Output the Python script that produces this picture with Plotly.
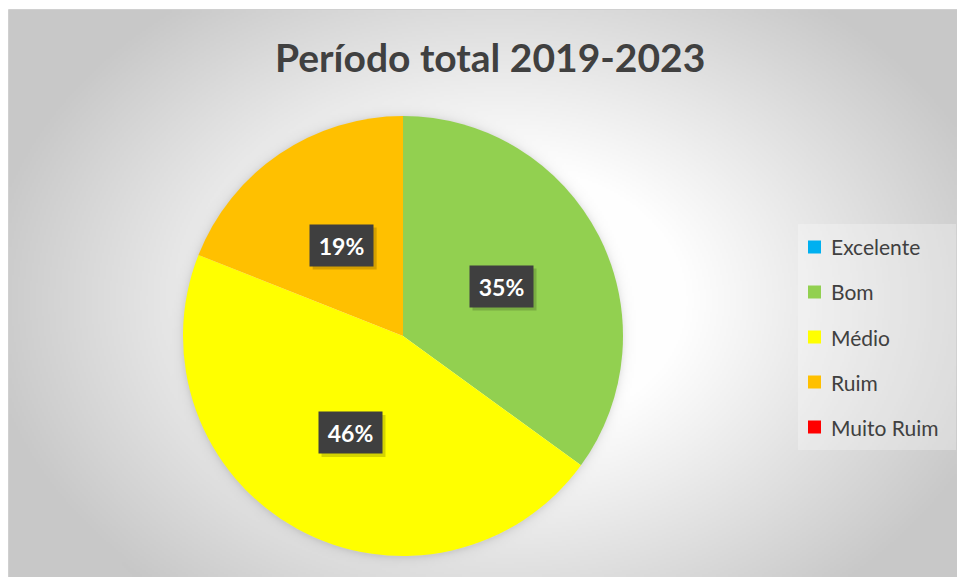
import base64
import math
import struct
import zlib

import numpy as np
import plotly.graph_objects as go

# ---------------- data ----------------
categories = ["Excelente", "Bom", "Médio", "Ruim", "Muito Ruim"]
values = [0, 35, 46, 19, 0]
colors = ["#00B0F0", "#92D050", "#FFFF00", "#FFC000", "#FF0000"]
title_text = "Período total 2019-2023"

# ---------------- geometry (pixels of the target picture) ----------------
W, H = 957, 577
OFF = 0                             # body margin removed via post_script
FW, FH = W - OFF, H - OFF
CX, CY, R = 403, 336, 220           # pie centre / radius
FRAME_X, FRAME_Y = 9, 10            # chart frame top-left


def px(x):
    return (x - OFF) / FW


def py(y):
    return 1 - (y - OFF) / FH


# ---------------- background gradient image ----------------
def make_png(gray):
    h, w = gray.shape
    raw = b"".join(b"\x00" + gray[i].tobytes() for i in range(h))

    def chunk(tag, data):
        c = struct.pack(">I", len(data)) + tag + data
        return c + struct.pack(">I", zlib.crc32(tag + data) & 0xFFFFFFFF)

    png = b"\x89PNG\r\n\x1a\n"
    png += chunk(b"IHDR", struct.pack(">IIBBBBB", w, h, 8, 0, 0, 0, 0))
    png += chunk(b"IDAT", zlib.compress(raw, 9))
    png += chunk(b"IEND", b"")
    return "data:image/png;base64," + base64.b64encode(png).decode()


scale = 2
gw, gh = (W - FRAME_X) // scale, (H - FRAME_Y) // scale
xs = FRAME_X + (np.arange(gw) + 0.5) * scale
ys = FRAME_Y + (np.arange(gh) + 0.5) * scale
XX, YY = np.meshgrid(xs, ys)
d = np.sqrt(((XX - 500) / 520) ** 2 + ((YY - 300) / 380) ** 2)
t = np.clip((d - 0.35) / 0.65, 0, 1)
g = 255 - 55 * t
rr = np.sqrt((XX - CX) ** 2 + (YY - CY) ** 2)
sh = np.where(rr > R - 2, 22 * np.exp(-np.clip(rr - R, 0, None) / 4.0), 0)
g = g - sh
gray = np.clip(g, 0, 255).astype(np.uint8)
bg_src = make_png(gray)

# ---------------- figure ----------------
fig = go.Figure()
fig.add_trace(go.Pie(
    labels=categories,
    values=values,
    marker=dict(colors=colors, line=dict(width=0)),
    sort=False,
    direction="clockwise",
    rotation=0,
    textinfo="none",
    hoverinfo="label+percent",
    showlegend=False,
    domain=dict(x=[px(CX - R), px(CX + R)], y=[py(CY + R), py(CY - R)]),
))

annotations = []
shapes = []

# data labels
total = sum(values)
cum = 0
label_r = 0.5 * R
BOX_W, BOX_H = 63, 41
for cat, v in zip(categories, values):
    if v > 0:
        mid = (cum + v / 2) / total * 2 * math.pi
        lx = CX + label_r * math.sin(mid)
        ly = CY - label_r * math.cos(mid)
        txt = f"{round(v / total * 100)}%"
        # shadow box
        shapes.append(dict(type="rect", xref="paper", yref="paper",
                           x0=px(lx - BOX_W / 2 + 3), x1=px(lx + BOX_W / 2 + 4),
                           y0=py(ly + BOX_H / 2 + 4), y1=py(ly - BOX_H / 2 + 3),
                           fillcolor="rgba(0,0,0,0.17)", line=dict(width=0)))
        annotations.append(dict(
            x=px(lx), y=py(ly), xref="paper", yref="paper", showarrow=False,
            xanchor="center", yanchor="middle",
            text=f"<b>{txt}</b>", font=dict(family="Lato", size=23, color="#FFFFFF"),
            bgcolor="#3F3F3F", borderpad=6, width=BOX_W - 12, height=BOX_H - 12,
        ))
    cum += v

# legend background
shapes.append(dict(type="rect", xref="paper", yref="paper",
                   x0=px(798), x1=px(956), y0=py(450), y1=py(224),
                   fillcolor="rgba(255,255,255,0.28)", line=dict(width=0), layer="below"))
# manual legend
for i, (cat, col) in enumerate(zip(categories, colors)):
    yc = 247 + i * 45
    shapes.append(dict(type="rect", xref="paper", yref="paper",
                       x0=px(808), x1=px(821), y0=py(yc + 6.5), y1=py(yc - 6.5),
                       fillcolor=col, line=dict(width=0), layer="below"))
    annotations.append(dict(
        x=px(829), y=py(yc), xref="paper", yref="paper", showarrow=False,
        xanchor="left", yanchor="middle", text=cat,
        font=dict(family="Lato", size=21, color="#404040"),
    ))

# title
annotations.append(dict(
    x=px(490), y=py(57), xref="paper", yref="paper", showarrow=False,
    xanchor="center", yanchor="middle", text=f"<b>{title_text}</b>",
    font=dict(family="Lato", size=39, color="#404040"),
))

# frame border (left and top edges visible)
shapes.append(dict(type="rect", xref="paper", yref="paper",
                   x0=px(FRAME_X - 0.5), x1=px(W + 5), y0=py(H + 5), y1=py(FRAME_Y - 0.5),
                   fillcolor="rgba(0,0,0,0)", line=dict(color="#D0D0D0", width=1), layer="below"))

fig.update_layout(
    width=FW, height=FH,
    margin=dict(l=0, r=0, t=0, b=0),
    paper_bgcolor="#FFFFFF",
    plot_bgcolor="#FFFFFF",
    images=[dict(source=bg_src, xref="paper", yref="paper",
                 x=px(FRAME_X), y=py(FRAME_Y),
                 sizex=(W - FRAME_X) / FW, sizey=(H - FRAME_Y) / FH,
                 xanchor="left", yanchor="top", sizing="stretch", layer="below")],
    shapes=shapes,
    annotations=annotations,
)

fig.write_html("out.html",
               config={"displayModeBar": False},
               post_script="document.body.style.margin='0px';document.body.style.overflow='hidden';")
